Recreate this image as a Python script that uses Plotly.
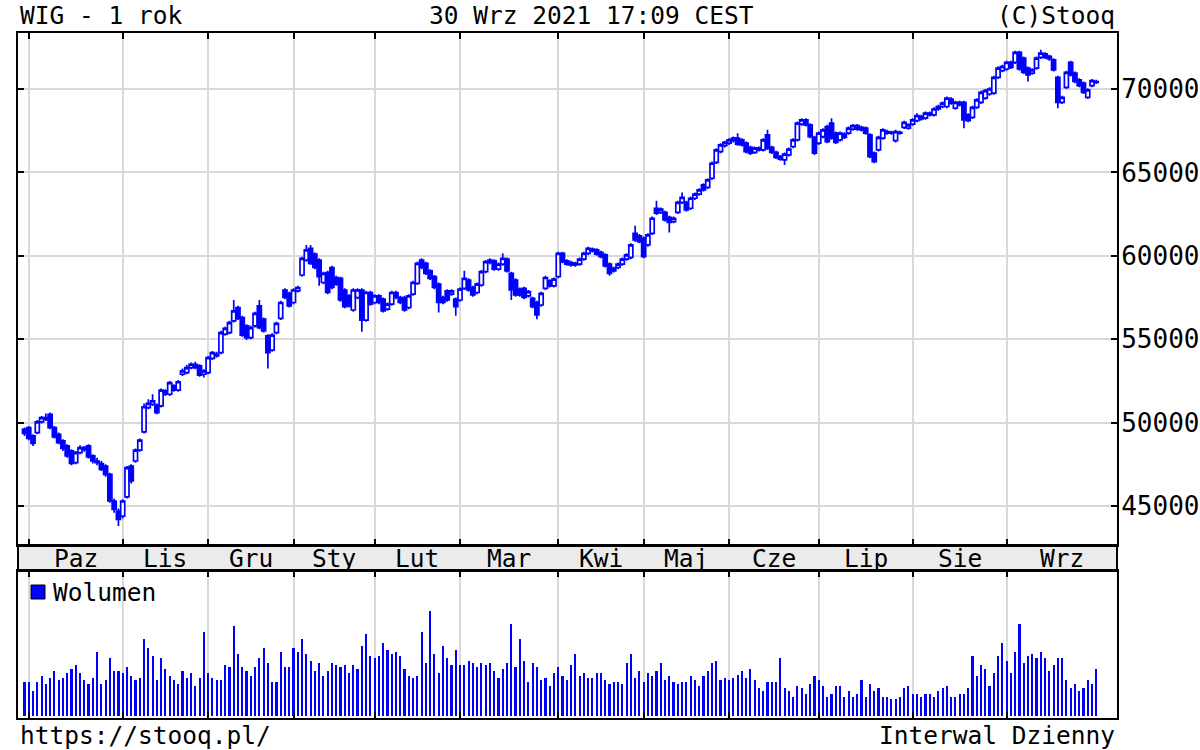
import plotly.graph_objects as go
import pandas as pd

# ---------------- data ----------------
holidays = ["2020-11-11", "2020-12-24", "2020-12-25", "2020-12-31", "2021-01-01",
            "2021-01-06", "2021-04-02", "2021-04-05", "2021-05-03", "2021-06-03"]
_days = pd.bdate_range("2020-09-30", "2021-09-30")
dates = [d.strftime("%Y-%m-%d") for d in _days if d.strftime("%Y-%m-%d") not in holidays]

month_names = ["Paz", "Lis", "Gru", "Sty", "Lut", "Mar", "Kwi", "Maj", "Cze", "Lip", "Sie", "Wrz"]
price_ticks = [45000, 50000, 55000, 60000, 65000, 70000]

open_ = [
    49600, 49700, 49200, 49400, 50050, 50300, 50500, 49700, 49300, 48900,
    48600, 48300, 47600, 48200, 48500, 48600, 48000, 47700, 47550, 47400,
    46900, 45300, 44700, 44400, 45550, 47400, 47700, 48350, 49450, 50900,
    51100, 51050, 51000, 51900, 51700, 52200, 51950, 52900, 53000, 53300,
    53500, 53400, 52900, 53000, 53850, 54100, 54200, 55300, 55400, 56100,
    56900, 56300, 55800, 55100, 55800, 57000, 56200, 55200, 54350, 55400,
    56250, 57950, 57750, 57200, 57900, 58850, 59750, 60450, 60100, 59750,
    58400, 59000, 59300, 58700, 58650, 57950, 57600, 56750, 57500, 57950,
    56150, 57800, 57200, 57600, 57400, 56800, 57100, 57800, 57500, 57500,
    56900, 57700, 58350, 59750, 59550, 59100, 58750, 58300, 57500, 57900,
    57700, 57400, 57350, 58050, 58550, 58100, 57800, 58250, 59050, 59600,
    59700, 59200, 59500, 59800, 58950, 58550, 58000, 58050, 57600, 57450,
    57200, 57050, 58050, 58500, 58200, 58750, 60150, 59700, 59450, 59550,
    59500, 59800, 60150, 60400, 60350, 60200, 60050, 59500, 59100, 59300,
    59500, 59800, 59900, 61350, 61200, 61050, 60650, 61350, 62850, 62600,
    62600, 62300, 62050, 62600, 63200, 63200, 62850, 63450, 63700, 64250,
    64100, 64650, 65600, 66250, 66600, 66750, 66900, 67050, 66950, 66750,
    66500, 66200, 66450, 66350, 67250, 66500, 66200, 65950, 65750, 66050,
    66550, 66950, 67900, 68150, 67850, 67100, 66750, 67150, 67750, 67950,
    67350, 66950, 67300, 67350, 67600, 67800, 67550, 67650, 67250, 66150,
    66350, 67050, 67450, 67350, 66900, 67400, 67700, 67650, 67900, 68100,
    68350, 68250, 68550, 68450, 68800, 68950, 68950, 69400, 68850, 69200,
    69200, 68450, 68300, 68900, 69200, 69450, 69700, 69750, 70700, 71100,
    71200, 71600, 71600, 72200, 71850, 71250, 70950, 71250, 71900, 72100,
    71950, 71750, 70700, 69200, 70100, 71600, 70950, 70550, 70350, 69500,
    70200, 70450,
]
close = [
    49350, 49050, 48750, 50050, 50300, 50200, 49700, 49150, 48800, 48450,
    48000, 47550, 48200, 48500, 48400, 47950, 47700, 47600, 47200, 46900,
    45300, 44800, 44200, 45300, 47300, 46500, 48350, 48950, 50950, 51150,
    51300, 50600, 51950, 51700, 52400, 51950, 52450, 53100, 53300, 53500,
    53300, 52850, 53100, 53900, 54200, 54000, 55400, 55650, 56000, 56700,
    56250, 55250, 55100, 55700, 56550, 55700, 55500, 54200, 55250, 55950,
    57200, 57500, 57000, 57950, 58100, 59850, 60350, 59550, 59300, 58750,
    58950, 57800, 58100, 58300, 57350, 56950, 57000, 57950, 57950, 56150,
    57800, 57100, 57600, 57200, 56700, 57100, 57800, 57500, 57200, 56750,
    57600, 58400, 59550, 59300, 58950, 58650, 58100, 57200, 57200, 57350,
    57900, 56950, 58000, 58650, 57950, 57650, 58300, 59050, 59650, 59750,
    59200, 59500, 59850, 59100, 57950, 57650, 57650, 57500, 57850, 56950,
    56450, 57750, 58700, 58200, 58600, 60150, 59650, 59500, 59600, 59450,
    59800, 60150, 60450, 60300, 60100, 59950, 59400, 58950, 59250, 59500,
    59800, 60050, 60650, 60950, 60850, 59950, 61250, 62250, 62550, 62800,
    62150, 62000, 62250, 63200, 63500, 62750, 63450, 63700, 63950, 63950,
    64550, 65550, 66350, 66650, 66800, 66950, 67050, 66700, 66650, 66250,
    66150, 66450, 66350, 66950, 66450, 66200, 65900, 65800, 66100, 66400,
    66950, 67950, 68150, 67850, 67150, 66150, 67350, 67550, 66850, 67050,
    66800, 67350, 67100, 67650, 67800, 67600, 67700, 67350, 65950, 65650,
    67100, 67550, 67350, 67400, 67450, 67350, 68000, 67850, 68150, 68400,
    68200, 68550, 68450, 68800, 68950, 69150, 69450, 69150, 69200, 69050,
    68150, 68100, 68900, 69350, 69800, 69900, 70000, 70700, 71250, 71350,
    71600, 71300, 72200, 71200, 71000, 70850, 71150, 71850, 72150, 71900,
    71800, 71150, 69200, 69500, 71000, 70850, 70450, 70200, 69800, 69950,
    70500, 70400,
]
high = [
    49700, 49800, 49300, 50150, 50400, 50550, 50600, 49800, 49400, 49000,
    48700, 48400, 48300, 48650, 48600, 48700, 48100, 47900, 47700, 47500,
    47000, 45450, 44850, 45400, 47400, 47500, 48450, 49050, 51150, 51400,
    51700, 51150, 52050, 52000, 52500, 52300, 52550, 53250, 53450, 53600,
    53650, 53500, 53200, 54000, 54300, 54250, 55500, 55750, 56100, 57350,
    57000, 56400, 55900, 55800, 56650, 57350, 56300, 55300, 55350, 56050,
    57300, 58050, 57850, 58050, 58200, 59950, 60650, 60650, 60200, 59850,
    59050, 59100, 59400, 58800, 58750, 58050, 57700, 58050, 58050, 58050,
    57900, 57900, 57700, 57700, 57500, 57200, 57900, 57900, 57600, 57600,
    57700, 58500, 59650, 59850, 59650, 59200, 58850, 58400, 57600, 58000,
    58000, 57500, 58100, 59100, 58650, 58200, 58400, 59150, 59750, 59850,
    59800, 59600, 60150, 59900, 59050, 58650, 58100, 58150, 57950, 57550,
    57300, 57850, 58800, 58600, 58700, 60250, 60250, 59800, 59700, 59650,
    59900, 60250, 60550, 60500, 60450, 60300, 60150, 59600, 59350, 59600,
    59900, 60150, 60750, 61800, 61300, 61150, 61350, 62350, 63300, 62900,
    62700, 62400, 62350, 63300, 63800, 63300, 63550, 63800, 64050, 64350,
    64650, 65650, 66450, 66750, 66900, 67050, 67150, 67350, 67050, 66850,
    66600, 66550, 66550, 67050, 67550, 66600, 66300, 66050, 66200, 66500,
    67050, 68050, 68250, 68250, 67950, 67200, 67450, 67650, 67850, 68250,
    67450, 67450, 67400, 67750, 67900, 67900, 67800, 67750, 67350, 66250,
    67200, 67650, 67550, 67500, 67550, 67500, 68100, 67950, 68250, 68550,
    68450, 68650, 68650, 68900, 69050, 69250, 69550, 69500, 69300, 69300,
    69300, 68550, 69000, 69450, 69900, 70000, 70100, 70800, 71350, 71450,
    71700, 71700, 72300, 72300, 71950, 71350, 71250, 71950, 72350, 72200,
    72050, 71850, 70800, 69600, 71100, 71700, 71050, 70650, 70450, 70050,
    70600, 70550,
]
low = [
    49200, 48950, 48600, 49300, 49950, 50100, 49600, 49050, 48700, 48300,
    47900, 47450, 47500, 48100, 48250, 47850, 47550, 47450, 47100, 46750,
    45200, 44600, 43800, 44250, 45450, 46350, 47600, 48250, 49350, 50800,
    51000, 50500, 50900, 51600, 51600, 51850, 51850, 52800, 52900, 53200,
    53200, 52750, 52700, 52900, 53750, 53900, 54100, 55200, 55300, 56000,
    56150, 55150, 54950, 55000, 55700, 55600, 55400, 53250, 54250, 55300,
    56150, 57400, 56900, 57100, 57800, 58750, 59650, 59450, 59200, 58200,
    58300, 57700, 58000, 58200, 57250, 56850, 56900, 56650, 57400, 55450,
    56050, 57000, 57100, 57100, 56600, 56700, 57000, 57400, 57100, 56650,
    56800, 57600, 58250, 59200, 58850, 58550, 58000, 56600, 57100, 57250,
    57600, 56400, 57250, 57950, 57850, 57550, 57700, 58150, 58950, 59500,
    59100, 59100, 59400, 59000, 57350, 57550, 57550, 57400, 57500, 56850,
    56200, 56950, 57950, 58100, 58100, 58650, 59550, 59400, 59350, 59350,
    59400, 59700, 60050, 60200, 60000, 59850, 59300, 58800, 59000, 59200,
    59400, 59700, 59800, 60850, 60750, 59850, 60550, 61250, 62450, 62500,
    62050, 61400, 61950, 62500, 63100, 62650, 62750, 63350, 63600, 63850,
    64000, 64550, 65500, 66150, 66500, 66650, 66800, 66600, 66550, 66150,
    66050, 66100, 66250, 66250, 66350, 66100, 65800, 65700, 65450, 65950,
    66450, 66850, 67800, 67750, 67050, 66050, 66650, 67050, 66750, 66950,
    66700, 66850, 67000, 67250, 67500, 67500, 67450, 67250, 65850, 65550,
    66250, 66950, 67250, 67250, 66800, 67250, 67600, 67550, 67800, 68000,
    68100, 68150, 68350, 68350, 68700, 68850, 68850, 69050, 68750, 68950,
    67650, 68000, 68200, 68800, 69100, 69350, 69600, 69650, 70600, 71000,
    71100, 71200, 71500, 71100, 70900, 70450, 70850, 71150, 71800, 71800,
    71700, 71050, 68850, 69100, 70000, 70750, 70350, 70100, 69700, 69400,
    70100, 70300,
]
volume = [  # mln PLN (estimated)
    680, 680, 500, 680, 800, 630, 760, 890, 720, 760,
    850, 930, 1020, 850, 720, 630, 760, 1270, 630, 720,
    1150, 890, 890, 850, 970, 800, 720, 760, 1530, 1360,
    1190, 720, 1150, 930, 800, 720, 630, 890, 760, 850,
    590, 760, 1660, 850, 760, 720, 720, 1020, 970, 1790,
    1230, 970, 890, 800, 970, 1150, 1360, 1060, 680, 680,
    1270, 970, 970, 1360, 1270, 1530, 1230, 1100, 890, 1060,
    800, 890, 1060, 1020, 970, 1020, 850, 1020, 930, 1400,
    1620, 1190, 1150, 1190, 1440, 1310, 1230, 1270, 1190, 930,
    800, 760, 800, 1660, 1060, 2090, 1230, 850, 1400, 1150,
    1020, 1310, 1020, 1020, 1100, 1060, 970, 1060, 1020, 1060,
    890, 760, 930, 1060, 1830, 970, 1530, 1100, 670, 1060,
    970, 720, 760, 590, 850, 970, 800, 720, 1020, 1230,
    800, 850, 760, 760, 850, 850, 720, 630, 670, 670,
    630, 1060, 1230, 760, 890, 670, 850, 800, 890, 1060,
    720, 800, 670, 630, 670, 670, 800, 720, 590, 800,
    890, 1060, 1100, 720, 760, 720, 760, 820, 890, 760,
    930, 720, 550, 500, 670, 670, 670, 1150, 550, 500,
    370, 590, 550, 430, 630, 800, 720, 590, 380, 430,
    590, 590, 380, 500, 380, 430, 720, 380, 630, 500,
    550, 370, 370, 330, 330, 370, 550, 590, 430, 430,
    370, 430, 430, 380, 500, 550, 590, 380, 380, 430,
    430, 550, 1190, 800, 1020, 930, 590, 850, 1190, 1440,
    1100, 850, 1270, 1830, 1060, 1190, 1230, 1150, 1270, 1150,
    890, 1020, 1150, 1150, 720, 550, 630, 500, 550, 720,
    630, 930,
]

n = min(len(open_), len(close), len(high), len(low), len(volume))
dates = (dates + [""] * n)[:n]
idx = list(range(n))

# ---------------- layout helpers (pixels) ----------------
W, H = 1200, 750
PX_L, PX_R = 18, 1117
TOP_MAIN, BOT_MAIN = 33, 545
TOP_VOL, BOT_VOL = 571, 718
X0, X1 = -1.52, 255.85
Y0, Y1 = 42663, 73357
V0, V1 = -40, 2880

def fx(p):
    return p / W

def fy(p):
    return 1 - p / H

BLUE = "#0000ff"
GRID = "#d9d9d9"
FONT = "DejaVu Sans Mono"
FS = 24.5

month_starts = [i for i in range(1, n) if dates[i][5:7] != dates[i - 1][5:7]]
bounds = month_starts + [X1]
month_centers = [(bounds[k] + bounds[k + 1]) / 2 for k in range(len(month_starts))]

fig = go.Figure()
fig.add_trace(go.Candlestick(
    x=idx, open=open_, high=high, low=low, close=close,
    increasing=dict(line=dict(color=BLUE, width=1.7), fillcolor="white"),
    decreasing=dict(line=dict(color=BLUE, width=1.7), fillcolor=BLUE),
    whiskerwidth=0, text=dates, name="WIG", showlegend=False,
    xaxis="x", yaxis="y",
))
fig.add_trace(go.Bar(
    x=idx, y=volume, width=0.5, marker=dict(color=BLUE, line=dict(width=0)),
    name="Wolumen", showlegend=False, xaxis="x2", yaxis="y2",
))

axis_common = dict(showline=True, linecolor="black", linewidth=2, zeroline=False)

fig.update_layout(
    width=W, height=H, margin=dict(l=0, r=0, t=0, b=0),
    paper_bgcolor="white", plot_bgcolor="white",
    boxgap=0.05, boxgroupgap=0, bargap=0, hovermode=False,
    font=dict(family=FONT, size=FS, color="black"),
    xaxis=dict(
        domain=[fx(PX_L), fx(PX_R)], range=[X0, X1], anchor="y",
        tickvals=month_starts, showticklabels=False,
        ticks="inside", ticklen=6, tickwidth=2, tickcolor="black",
        showgrid=True, gridcolor=GRID, gridwidth=2, mirror="ticks",
        rangeslider=dict(visible=False), **axis_common,
    ),
    yaxis=dict(
        domain=[fy(BOT_MAIN), fy(TOP_MAIN)], range=[Y0, Y1], anchor="x",
        tickvals=price_ticks, ticktext=[str(v) for v in price_ticks],
        side="right", ticks="inside", ticklen=6, tickwidth=2, tickcolor="black",
        showgrid=True, gridcolor=GRID, gridwidth=2, mirror="ticks",
        tickfont=dict(family=FONT, size=26, color="black"), ticklabelstandoff=-3,
        **axis_common,
    ),
    xaxis2=dict(
        domain=[fx(PX_L), fx(PX_R)], range=[X0, X1], anchor="y2",
        tickvals=month_starts, showticklabels=False,
        ticks="inside", ticklen=6, tickwidth=2, tickcolor="black",
        showgrid=True, gridcolor=GRID, gridwidth=2, mirror="ticks",
        **axis_common,
    ),
    yaxis2=dict(
        domain=[fy(BOT_VOL), fy(TOP_VOL)], range=[V0, V1], anchor="x2",
        showticklabels=False, showgrid=False, ticks="", mirror=True,
        **axis_common,
    ),
)

shapes = [
    dict(type="rect", xref="paper", yref="paper", x0=fx(PX_L), x1=fx(PX_R),
         y0=fy(TOP_VOL), y1=fy(BOT_MAIN), fillcolor="#ebebeb",
         line=dict(color="black", width=2), layer="below"),
    dict(type="rect", xref="paper", yref="paper", x0=fx(31), x1=fx(45),
         y0=fy(599), y1=fy(585), fillcolor=BLUE, line=dict(color="black", width=1)),
]
annotations = []
for name, c in zip(month_names, month_centers):
    annotations.append(dict(x=c, y=fy((BOT_MAIN + TOP_VOL) / 2), xref="x", yref="paper",
                            text=name, showarrow=False, xanchor="center", yanchor="middle",
                            font=dict(family=FONT, size=FS)))
annotations += [
    dict(x=fx(51), y=fy(592), xref="paper", yref="paper", text="Wolumen",
         showarrow=False, xanchor="left", yanchor="middle", font=dict(family=FONT, size=FS)),
    dict(x=fx(PX_L), y=fy(15), xref="paper", yref="paper", text="WIG - 1 rok",
         showarrow=False, xanchor="left", yanchor="middle", font=dict(family=FONT, size=FS)),
    dict(x=fx(591), y=fy(15), xref="paper", yref="paper", text="30 Wrz 2021 17:09 CEST",
         showarrow=False, xanchor="center", yanchor="middle", font=dict(family=FONT, size=FS)),
    dict(x=fx(PX_R), y=fy(15), xref="paper", yref="paper", text="(C)Stooq",
         showarrow=False, xanchor="right", yanchor="middle", font=dict(family=FONT, size=FS)),
    dict(x=fx(PX_L), y=fy(735), xref="paper", yref="paper", text="https://stooq.pl/",
         showarrow=False, xanchor="left", yanchor="middle", font=dict(family=FONT, size=FS)),
    dict(x=fx(PX_R), y=fy(735), xref="paper", yref="paper", text="Interwal Dzienny",
         showarrow=False, xanchor="right", yanchor="middle", font=dict(family=FONT, size=FS)),
]
fig.update_layout(shapes=shapes, annotations=annotations)

fig.write_html("out.html", config={"displayModeBar": False},
               post_script="document.body.style.margin='0';document.body.style.overflow='hidden';")
